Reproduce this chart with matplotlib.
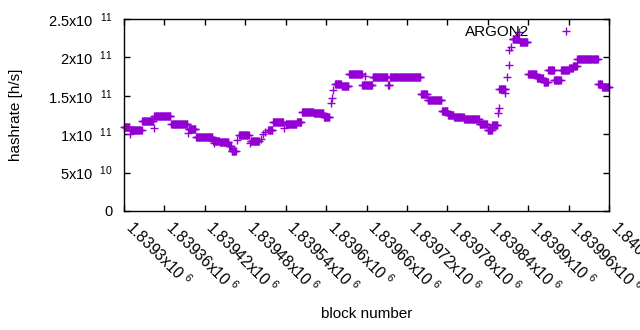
import numpy as np
import matplotlib
matplotlib.use("Agg")
import matplotlib.pyplot as plt

plt.rcParams['font.family'] = ['Liberation Sans', 'DejaVu Sans']
plt.rcParams['mathtext.fontset'] = 'custom'
plt.rcParams['mathtext.rm'] = 'Liberation Sans'
plt.rcParams['mathtext.it'] = 'Liberation Sans:italic'

BASE_BLOCK = 1839300

# runs of blocks with the same hashrate: first block, last block (offset from BASE_BLOCK), value x1e11
run_start = [0, 9, 10, 27, 44, 45, 70, 95, 96, 107, 132, 133, 142, 156, 160, 168, 171, 187, 188,
             204, 207, 210, 214, 221, 237, 240, 257, 264, 282, 297, 307, 309, 311, 313, 323, 334,
             335, 354, 358, 369, 392, 395, 441, 451, 472, 481, 490, 498, 505, 528, 540, 547, 555,
             556, 557, 565, 569, 571, 572, 574, 577, 587, 588, 600, 613, 623, 630, 639, 649, 661,
             667, 673, 704, 710]
run_end = [8, 9, 26, 43, 44, 69, 94, 95, 106, 131, 141, 133, 155, 159, 166, 168, 185, 187, 200,
           204, 207, 210, 220, 236, 237, 256, 263, 281, 296, 305, 307, 309, 311, 322, 333, 334,
           353, 368, 358, 391, 394, 440, 450, 471, 480, 489, 497, 504, 527, 539, 546, 554, 555,
           556, 566, 565, 569, 571, 572, 574, 586, 587, 599, 612, 622, 629, 638, 648, 660, 666,
           672, 703, 709, 720]
run_value = [1.10, 1.00, 1.05, 1.176, 1.077, 1.243, 1.139, 1.02, 1.063, 0.96, 0.91, 0.88, 0.90,
             0.84, 0.785, 0.92, 0.99, 0.88, 0.915, 0.94, 1.00, 1.03, 1.06, 1.155, 1.077, 1.13,
             1.16, 1.29, 1.27, 1.23, 1.41, 1.47, 1.575, 1.66, 1.63, 1.79, 1.78, 1.635, 1.76,
             1.75, 1.64, 1.74, 1.52, 1.44, 1.306, 1.246, 1.23, 1.22, 1.20, 1.13, 1.06, 1.115,
             1.27, 1.34, 1.585, 1.54, 1.75, 1.90, 2.10, 2.14, 2.235, 2.33, 2.20, 1.78, 1.735,
             1.675, 1.83, 1.70, 1.83, 1.86, 1.89, 1.975, 1.65, 1.62]

xtick_vals = [1839300, 1839360, 1839420, 1839480, 1839540, 1839600, 1839660,
              1839720, 1839780, 1839840, 1839900, 1839960, 1840020]
ytick_vals = [0, 0.5e11, 1.0e11, 1.5e11, 2.0e11, 2.5e11]
ytick_labels = ["0", "5x10  $^{10}$", "1x10  $^{11}$", "1.5x10  $^{11}$", "2x10  $^{11}$", "2.5x10  $^{11}$"]

blocks = []
rates = []
for s, e, v in zip(run_start, run_end, run_value):
    for b in range(s, e + 1):
        blocks.append(BASE_BLOCK + b)
        rates.append(v * 1e11)

FS = 10.5

fig = plt.figure(figsize=(6.4, 3.3), dpi=100)
ax = fig.add_axes([124 / 640, 1 - 211 / 330, (609 - 124) / 640, (211 - 19) / 330])

ax.plot(blocks, rates, linestyle="none", marker="+", markersize=5.2, markeredgewidth=1.0,
        color="#9400d3", label="ARGON2", clip_on=False)

ax.set_xlim(1839300, 1840020)
ax.set_ylim(0, 2.5e11)
ax.set_xticks(xtick_vals)
ax.set_xticklabels(["{:g}x10 $^{{6}}$".format(v / 1e6) for v in xtick_vals],
                   rotation=-45, ha="left", va="baseline", rotation_mode="anchor", fontsize=11.2)
ax.set_yticks(ytick_vals)
ax.set_yticklabels(ytick_labels, fontsize=FS)
ax.tick_params(direction="in", length=4, width=1, top=True, right=True)
ax.tick_params(axis="y", pad=8)
ax.tick_params(axis="x", pad=12.5)
for sp in ax.spines.values():
    sp.set_linewidth(1)

ax.set_xlabel("block number", fontsize=FS + 0.5)
ax.xaxis.set_label_coords(0.5, -0.5)
ax.set_ylabel("hashrate [h/s]", fontsize=FS + 0.5)
ax.yaxis.set_label_coords(-0.208, 0.5)

ax.legend(loc="upper right", bbox_to_anchor=(0.975, 1.0), borderaxespad=0, frameon=False,
          markerfirst=False, handlelength=3.2, handletextpad=0.8, fontsize=11)

fig.savefig("out.png", dpi=100)
